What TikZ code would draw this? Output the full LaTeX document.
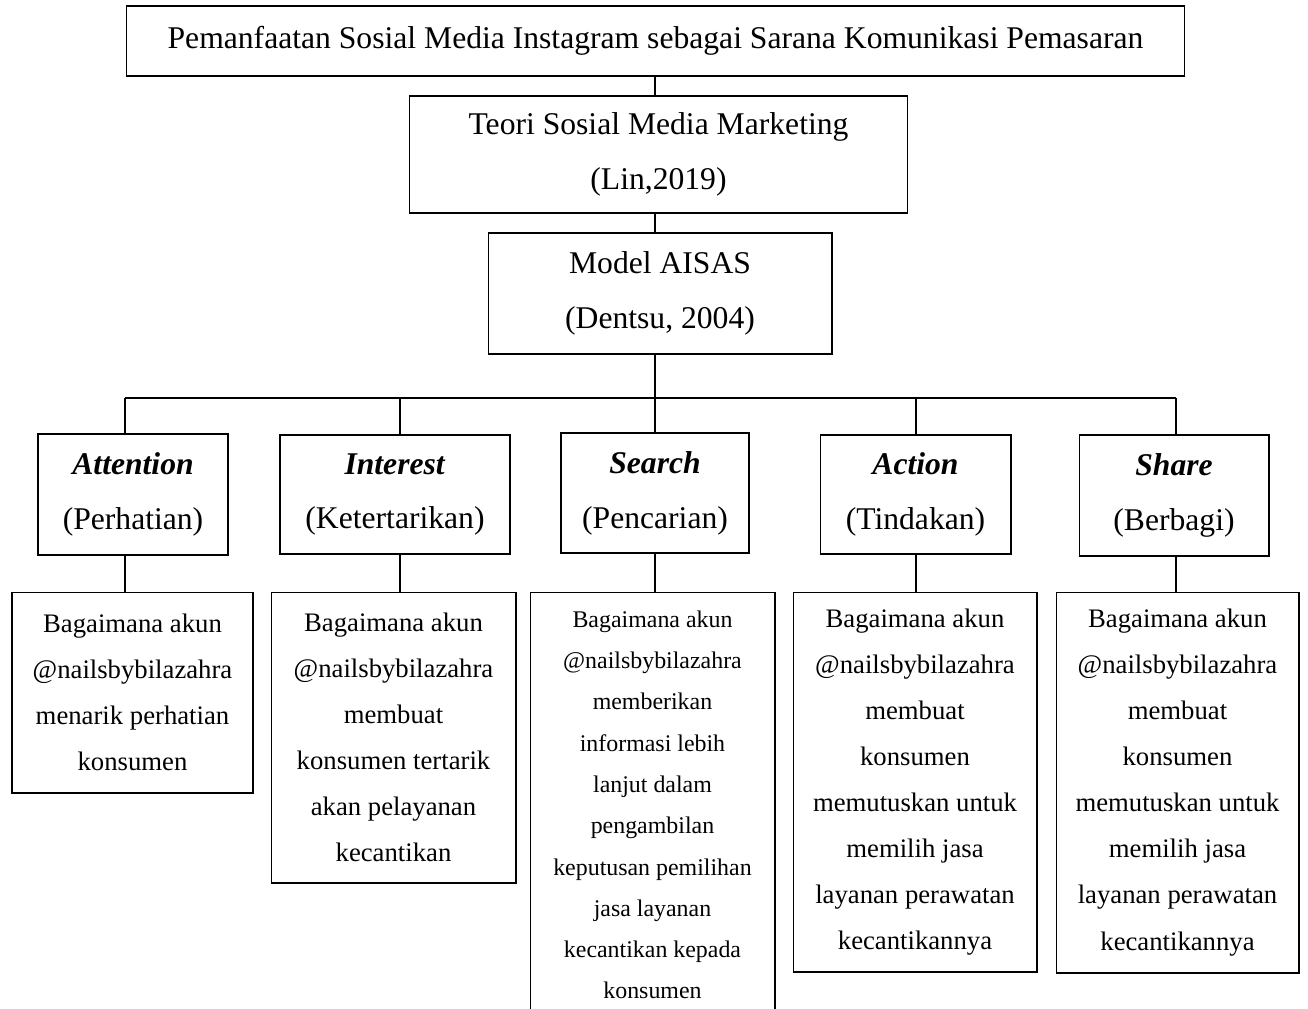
\documentclass[tikz,border=0pt]{standalone}
\usepackage{fontspec}
\setmainfont{Liberation Serif}
\usepackage{tikz}

\newcommand{\headsize}{\fontsize{18}{31.3}\selectfont}
\newcommand{\descsize}{\fontsize{15.2}{26.2}\selectfont}
\newcommand{\finesize}{\fontsize{13.6}{23.5}\selectfont}

\tikzset{
    box/.style={draw, line width=0.6pt, inner sep=0pt, align=center},
    link/.style={line width=0.6pt},
}

\begin{document}
\begin{tikzpicture}[x=0.02cm, y=-0.02cm]
    \useasboundingbox (0,0) rectangle (1308,1008);

    \node [box, minimum width=21.18cm, minimum height=1.40cm, font=\headsize] (title) at (655.5,41)
        {Pemanfaatan Sosial Media Instagram sebagai Sarana Komunikasi Pemasaran};
    \node [box, minimum width=9.98cm, minimum height=2.34cm, font=\headsize] (teori) at (658.5,154.5)
        {Teori Sosial Media Marketing\\(Lin,2019)};
    \node [box, minimum width=6.88cm, minimum height=2.42cm, font=\headsize] (model) at (660,293.5)
        {Model AISAS\\(Dentsu, 2004)};

    % tahap AISAS
    \node [box, minimum width=3.80cm, minimum height=2.42cm, font=\headsize] (attn) at (133,494.5)
        {\textbf{\textit{Attention}}\\(Perhatian)};
    \node [box, minimum width=4.60cm, minimum height=2.38cm, font=\headsize] (inter) at (395,494.5)
        {\textbf{\textit{Interest}}\\(Ketertarikan)};
    \node [box, minimum width=3.76cm, minimum height=2.40cm, font=\headsize] (search) at (655,493)
        {\textbf{\textit{Search}}\\(Pencarian)};
    \node [box, minimum width=3.82cm, minimum height=2.38cm, font=\headsize] (action) at (915.5,494.5)
        {\textbf{\textit{Action}}\\(Tindakan)};
    \node [box, minimum width=3.80cm, minimum height=2.42cm, font=\headsize] (share) at (1174,495.5)
        {\textbf{\textit{Share}}\\(Berbagi)};

    % pertanyaan
    \node [box, minimum width=4.82cm, minimum height=4.02cm, font=\descsize] (qattn) at (132.5,692.5)
        {Bagaimana akun\\@nailsbybilazahra\\menarik perhatian\\konsumen};
    \node [box, minimum width=4.90cm, minimum height=5.82cm, font=\descsize] (qinter) at (393.5,737.5)
        {Bagaimana akun\\@nailsbybilazahra\\membuat\\konsumen tertarik\\akan pelayanan\\kecantikan};
    \node [box, minimum width=4.90cm, minimum height=8.52cm, font=\finesize] (qsearch) at (652.5,805)
        {Bagaimana akun\\@nailsbybilazahra\\memberikan\\informasi lebih\\lanjut dalam\\pengambilan\\keputusan pemilihan\\jasa layanan\\kecantikan kepada\\konsumen};
    \node [box, minimum width=4.88cm, minimum height=7.60cm, font=\descsize] (qaction) at (915,782)
        {Bagaimana akun\\@nailsbybilazahra\\membuat\\konsumen\\memutuskan untuk\\memilih jasa\\layanan perawatan\\kecantikannya};
    \node [box, minimum width=4.86cm, minimum height=7.62cm, font=\descsize] (qshare) at (1177.5,782.5)
        {Bagaimana akun\\@nailsbybilazahra\\membuat\\konsumen\\memutuskan untuk\\memilih jasa\\layanan perawatan\\kecantikannya};

    \coordinate (c1) at (125,398);
    \coordinate (c2) at (400,398);
    \coordinate (c3) at (655,398);
    \coordinate (c4) at (916,398);
    \coordinate (c5) at (1176,398);

    \draw [link] (title.south -| c3) -- (teori.north -| c3);
    \draw [link] (teori.south -| c3) -- (model.north -| c3);
    \draw [link] (model.south -| c3) -- (c3);
    \draw [link] (c1) -- (c5);

    \draw [link] (c1) -- (c1 |- attn.north) (c1 |- attn.south) -- (c1 |- qattn.north);
    \draw [link] (c2) -- (c2 |- inter.north) (c2 |- inter.south) -- (c2 |- qinter.north);
    \draw [link] (c3) -- (c3 |- search.north) (c3 |- search.south) -- (c3 |- qsearch.north);
    \draw [link] (c4) -- (c4 |- action.north) (c4 |- action.south) -- (c4 |- qaction.north);
    \draw [link] (c5) -- (c5 |- share.north) (c5 |- share.south) -- (c5 |- qshare.north);

\end{tikzpicture}
\end{document}
